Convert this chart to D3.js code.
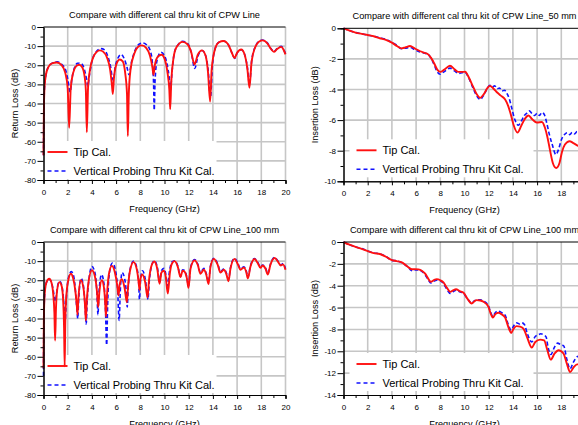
<!DOCTYPE html>
<html>
<head>
<meta charset="utf-8">
<script src="https://cdn.jsdelivr.net/npm/d3@7"></script>
<style>
  body { margin: 0; background: #fff; }
  svg { display: block; font-family: "Liberation Sans", Arial, sans-serif; }
</style>
</head>
<body>
<div id="chart"></div>
<script>
// DATA
const freqTicks = [0, 2, 4, 6, 8, 10, 12, 14, 16, 18, 20];
const freqMinor = [1, 3, 5, 7, 9, 11, 13, 15, 17, 19];
const rlTicks = [0, -10, -20, -30, -40, -50, -60, -70, -80];
const rlMinor = [-5, -15, -25, -35, -45, -55, -65, -75];
const il50Ticks = [0, -2, -4, -6, -8, -10];
const il50Minor = [-1, -3, -5, -7, -9];
const il100Ticks = [0, -2, -4, -6, -8, -10, -12, -14];
const il100Minor = [-1, -3, -5, -7, -9, -11, -13];
const seriesNames = ['Tip Cal.', 'Vertical Probing Thru Kit Cal.'];

// return loss, CPW line  [GHz, dB]
const rlLineTip = [[0, -67], [0.03, -45], [0.08, -32], [0.2, -25], [0.4, -21], [0.7, -19], [1.1, -18.6], [1.5, -20], [1.8, -24],
  [2.0, -32], [2.12, -52.7], [2.25, -32], [2.45, -24], [2.7, -20.5], [2.95, -19.7], [3.2, -21], [3.4, -26], [3.5, -33], [3.58, -55],
  [3.68, -32], [3.85, -22], [4.1, -16], [4.4, -13], [4.65, -12.2], [4.95, -13], [5.25, -16], [5.5, -22], [5.65, -30], [5.73, -35],
  [5.82, -27], [6.0, -20], [6.3, -17], [6.55, -18], [6.75, -24], [6.9, -35], [6.97, -57], [7.05, -35], [7.2, -22], [7.5, -14],
  [7.8, -10.5], [8.13, -9.6], [8.5, -11], [8.8, -15], [9.0, -21], [9.09, -25], [9.2, -20], [9.45, -15.5], [9.75, -14.5], [10.0, -16.5],
  [10.25, -24], [10.4, -33], [10.47, -43], [10.55, -30], [10.75, -16], [11.0, -10.5], [11.5, -7.8], [11.9, -9], [12.2, -13],
  [12.48, -19.6], [12.75, -14.5], [13.1, -12.2], [13.4, -15], [13.6, -24], [13.77, -39], [13.9, -22], [14.2, -11], [14.5, -8],
  [14.88, -7.3], [15.3, -9.5], [15.6, -14], [15.79, -16.2], [16.0, -13.5], [16.34, -11.8], [16.6, -14], [16.85, -22], [17.02, -31.8],
  [17.2, -18], [17.5, -10.5], [17.8, -7.7], [18.13, -7], [18.5, -8.5], [18.8, -11.5], [19.04, -13], [19.3, -11.5], [19.65, -10.4],
  [19.85, -12], [20, -14.3]];
const rlLineVp = [[0, -67], [0.03, -45], [0.08, -32], [0.2, -25], [0.4, -21], [0.7, -19], [1.15, -18.2], [1.5, -19.5], [1.8, -22],
  [2.0, -27], [2.2, -34], [2.35, -27], [2.55, -21.5], [2.8, -19], [3.0, -18.8], [3.25, -20], [3.45, -24], [3.58, -28], [3.66, -31],
  [3.8, -25], [4.0, -18], [4.3, -13.5], [4.75, -11.3], [5.05, -12], [5.3, -15], [5.55, -21], [5.7, -27], [5.78, -28], [5.9, -22],
  [6.1, -17], [6.42, -14.4], [6.7, -17], [6.9, -21], [7.07, -25], [7.25, -19], [7.55, -12.5], [7.9, -9], [8.2, -8.3], [8.55, -9.5],
  [8.85, -13], [9.0, -19], [9.1, -30], [9.15, -43.5], [9.22, -28], [9.4, -17], [9.7, -13.2], [9.95, -14.5], [10.2, -19], [10.4, -27],
  [10.5, -33], [10.6, -25], [10.8, -14], [11.1, -9.5], [11.5, -7.5], [11.9, -8.5], [12.2, -13], [12.5, -21.7], [12.78, -15],
  [13.1, -12.3], [13.4, -15], [13.6, -22], [13.8, -37], [13.95, -21], [14.2, -11], [14.5, -8], [14.85, -7.3], [15.3, -9.5],
  [15.6, -14], [15.8, -16.4], [16.0, -13.6], [16.35, -11.9], [16.6, -14], [16.85, -21], [17.02, -30], [17.2, -18], [17.5, -10.3],
  [17.8, -7.5], [18.1, -6.8], [18.5, -8.3], [18.8, -11.3], [19.04, -12.8], [19.3, -11.3], [19.65, -10.1], [19.85, -11.8], [20, -14]];

// insertion loss, 50 mm line
const il50Tip = [[0, 0], [0.5, -0.15], [1, -0.28], [1.5, -0.36], [2, -0.44], [2.5, -0.52], [3, -0.65], [3.5, -0.75], [4, -0.94],
  [4.4, -1.15], [4.77, -1.31], [5.1, -1.25], [5.5, -1.16], [5.9, -1.32], [6.34, -1.5], [6.7, -1.6], [7.02, -1.72], [7.25, -1.95],
  [7.5, -2.3], [7.75, -2.7], [8.0, -2.85], [8.3, -2.72], [8.8, -2.45], [9.2, -2.7], [9.5, -2.85], [9.8, -2.85], [10.05, -2.84],
  [10.35, -3.2], [10.7, -3.8], [11.0, -4.3], [11.3, -4.55], [11.6, -4.3], [11.9, -3.9], [12.1, -3.76], [12.4, -3.95], [12.7, -4.2],
  [13.0, -4.4], [13.36, -4.65], [13.6, -5.05], [13.8, -5.55], [14.05, -6.3], [14.38, -6.81], [14.7, -6.35], [15.0, -5.9],
  [15.29, -5.7], [15.6, -5.95], [15.98, -6.16], [16.4, -6.12], [16.65, -6.5], [16.85, -7.1], [17.05, -7.9], [17.3, -8.8],
  [17.58, -9.13], [17.85, -8.8], [18.05, -8.1], [18.3, -7.6], [18.68, -7.38], [19.0, -7.5], [19.4, -7.69], [20, -7.8]];
const il50Vp = [[0, 0], [0.5, -0.15], [1, -0.28], [1.5, -0.36], [2, -0.44], [2.5, -0.52], [3, -0.62], [3.5, -0.72], [4, -0.92],
  [4.4, -1.1], [4.77, -1.33], [5.1, -1.3], [5.5, -1.25], [5.9, -1.4], [6.34, -1.55], [6.7, -1.62], [7.02, -1.72], [7.25, -1.98],
  [7.5, -2.4], [7.75, -2.85], [8.0, -3.0], [8.3, -2.85], [8.8, -2.6], [9.2, -2.8], [9.5, -2.95], [9.8, -2.9], [10.05, -2.88],
  [10.35, -3.25], [10.7, -3.9], [11.0, -4.4], [11.3, -4.65], [11.6, -4.35], [11.9, -3.9], [12.1, -3.72], [12.3, -3.85],
  [12.5, -3.75], [12.7, -3.95], [12.9, -3.9], [13.1, -4.1], [13.3, -4.05], [13.5, -4.25], [13.7, -4.6], [13.9, -5.2],
  [14.15, -5.95], [14.45, -6.33], [14.7, -6.05], [14.95, -5.7], [15.15, -5.55], [15.35, -5.4], [15.6, -5.6], [15.8, -5.7],
  [16.0, -5.55], [16.2, -5.7], [16.4, -5.5], [16.6, -5.65], [16.8, -6.2], [17.0, -6.9], [17.25, -7.6], [17.55, -8.25],
  [17.8, -7.85], [18.0, -7.3], [18.25, -6.95], [18.5, -6.82], [18.7, -6.95], [18.9, -6.8], [19.1, -6.9], [19.3, -6.75],
  [19.5, -6.8], [20, -6.8]];

// return loss, 100 mm line
const rl100Tip = [[0, -66], [0.03, -40], [0.1, -27], [0.25, -21], [0.47, -19.2], [0.65, -21], [0.8, -27], [0.9, -37], [0.96, -51.5],
  [1.03, -35], [1.13, -25], [1.32, -21], [1.5, -23], [1.62, -30], [1.7, -45], [1.75, -65], [1.8, -42], [1.9, -27], [2.05, -20],
  [2.26, -16.6], [2.45, -19], [2.62, -25], [2.75, -33], [2.81, -38], [2.88, -30], [3.09, -20], [3.3, -24], [3.43, -33], [3.5, -41],
  [3.57, -32], [3.72, -21], [4.0, -14.8], [4.25, -18], [4.42, -26], [4.52, -34], [4.62, -26], [4.82, -20], [5.0, -24], [5.1, -32],
  [5.16, -39], [5.23, -30], [5.4, -17], [5.65, -12.5], [5.9, -16], [6.1, -23], [6.2, -28], [6.3, -22], [6.47, -19.5], [6.7, -24],
  [6.89, -31.5], [6.98, -24], [7.15, -15], [7.44, -10.5], [7.7, -14], [7.88, -22], [7.93, -25], [8.0, -20], [8.15, -17], [8.4, -21],
  [8.6, -29], [8.72, -20], [8.9, -13], [9.15, -10.2], [9.4, -14], [9.59, -21.8], [9.75, -16], [9.95, -15], [10.1, -18], [10.27, -27],
  [10.45, -16], [10.6, -11.5], [10.83, -10], [11.1, -13], [11.32, -18.3], [11.5, -15], [11.65, -15.5], [11.85, -19], [11.98, -24],
  [12.15, -14], [12.48, -9.6], [12.75, -12], [12.97, -16.6], [13.25, -14.5], [13.45, -17], [13.64, -22], [13.8, -13], [14.08, -8.8],
  [14.4, -12], [14.63, -16], [14.9, -14.5], [15.1, -16.5], [15.29, -20.5], [15.45, -14], [15.79, -8.8], [16.05, -11.5],
  [16.28, -14.5], [16.56, -13.4], [16.75, -15.5], [16.89, -19], [17.1, -13], [17.44, -8.9], [17.7, -11], [17.93, -13.5],
  [18.1, -12.3], [18.35, -14], [18.54, -17], [18.75, -12], [19.1, -8.4], [19.4, -10.5], [19.6, -12.3], [19.8, -11.7], [20, -14.5]];
const rl100Vp = [[0, -70], [0.03, -42], [0.1, -27], [0.25, -21], [0.47, -19.4], [0.65, -21], [0.8, -25], [0.93, -30], [1.0, -31],
  [1.08, -27], [1.2, -22], [1.35, -20.5], [1.52, -23], [1.68, -32], [1.78, -42], [1.9, -28], [2.05, -19], [2.3, -15.5], [2.5, -18],
  [2.65, -26], [2.78, -37], [2.83, -40], [2.9, -31], [3.1, -19], [3.3, -23], [3.45, -35], [3.53, -43], [3.6, -32], [3.75, -20],
  [4.0, -12.8], [4.25, -16], [4.42, -27], [4.5, -38], [4.58, -27], [4.8, -17], [5.0, -22], [5.12, -35], [5.22, -54], [5.3, -33],
  [5.45, -16], [5.7, -11], [5.95, -15], [6.12, -24], [6.25, -41], [6.35, -25], [6.5, -16], [6.7, -19], [6.85, -27], [6.92, -34],
  [7.0, -24], [7.2, -13], [7.45, -10], [7.7, -13], [7.87, -22], [7.93, -30], [8.02, -20], [8.18, -15], [8.4, -19], [8.57, -27],
  [8.63, -30], [8.75, -20], [8.95, -12], [9.15, -9.8], [9.4, -13], [9.6, -21], [9.75, -15], [9.95, -13.8], [10.1, -16.5],
  [10.25, -23], [10.42, -15], [10.6, -10.5], [10.83, -9.8], [11.1, -12.5], [11.32, -18], [11.5, -14.5], [11.65, -14.8],
  [11.85, -18.5], [11.98, -23], [12.15, -13.5], [12.48, -9.2], [12.75, -11.5], [12.97, -16], [13.25, -13.8], [13.45, -16.5],
  [13.64, -21], [13.8, -12.5], [14.08, -8.5], [14.4, -11.5], [14.63, -15.5], [14.9, -14], [15.1, -16], [15.29, -19.5],
  [15.45, -13.5], [15.79, -8.5], [16.05, -11], [16.28, -14], [16.56, -13], [16.75, -15], [16.89, -18.5], [17.1, -12.5],
  [17.44, -8.6], [17.7, -10.6], [17.93, -13], [18.1, -12], [18.35, -13.6], [18.54, -16.5], [18.75, -11.6], [19.1, -8.1],
  [19.4, -10.2], [19.6, -12], [19.8, -11.3], [20, -14]];

// insertion loss, 100 mm line
const il100Tip = [[0, 0], [0.5, -0.25], [1, -0.45], [1.5, -0.62], [2, -0.83], [2.5, -1.02], [3, -1.1], [3.5, -1.35], [4, -1.65],
  [4.4, -1.75], [4.82, -1.87], [5.23, -2.2], [5.65, -2.5], [5.9, -2.48], [6.2, -2.5], [6.5, -2.65], [6.75, -2.9], [7.0, -3.35],
  [7.22, -3.64], [7.45, -3.5], [7.71, -3.4], [8.0, -3.5], [8.26, -3.7], [8.55, -4.2], [8.82, -4.56], [9.05, -4.42], [9.3, -4.32],
  [9.6, -4.5], [9.92, -4.65], [10.25, -5.2], [10.6, -5.63], [10.8, -5.45], [11.0, -5.32], [11.3, -5.35], [11.57, -5.47],
  [11.98, -5.93], [12.15, -6.5], [12.34, -6.91], [12.55, -6.6], [12.8, -6.48], [13.05, -6.6], [13.36, -6.91], [13.6, -7.7],
  [13.86, -8.32], [14.05, -7.95], [14.3, -7.7], [14.6, -7.75], [14.88, -7.95], [15.2, -8.8], [15.56, -9.66], [15.85, -9.15],
  [16.25, -8.93], [16.58, -9.0], [16.85, -9.9], [17.13, -10.76], [17.45, -10.2], [17.77, -9.9], [18.18, -10.2], [18.45, -11.1],
  [18.73, -11.9], [19.0, -11.5], [19.3, -11.2], [20, -11.2]];
const il100Vp = [[0, 0], [0.5, -0.25], [1, -0.45], [1.5, -0.6], [2, -0.82], [2.5, -1.0], [3, -1.08], [3.5, -1.32], [4, -1.68],
  [4.4, -1.72], [4.82, -1.9], [5.23, -2.2], [5.5, -2.5], [5.7, -2.65], [5.9, -2.55], [6.2, -2.55], [6.5, -2.7], [6.75, -3.0],
  [7.0, -3.45], [7.22, -3.75], [7.45, -3.6], [7.71, -3.5], [8.0, -3.55], [8.26, -3.8], [8.55, -4.35], [8.82, -4.7], [9.05, -4.55],
  [9.3, -4.4], [9.6, -4.55], [9.92, -4.7], [10.25, -5.2], [10.6, -5.6], [10.8, -5.4], [11.0, -5.3], [11.3, -5.3], [11.57, -5.4],
  [11.98, -5.85], [12.15, -6.4], [12.34, -6.79], [12.55, -6.45], [12.8, -6.33], [13.05, -6.45], [13.36, -6.7], [13.6, -7.5],
  [13.86, -8.07], [14.05, -7.7], [14.3, -7.4], [14.55, -7.5], [14.75, -7.4], [14.95, -7.55], [15.2, -8.4], [15.56, -9.14],
  [15.85, -8.65], [16.1, -8.5], [16.3, -8.4], [16.55, -8.5], [16.75, -8.7], [16.9, -9.6], [17.13, -10.3], [17.45, -9.6],
  [17.7, -9.25], [17.95, -9.4], [18.2, -9.5], [18.45, -10.7], [18.73, -11.6], [19.0, -11.0], [19.3, -10.5], [20, -10.3]];

// LAYOUT
const plotW = 242;
const plotH = 153;
const panels = [
  { left: 43.5, top: 27, yMin: -80, ticks: rlTicks, minor: rlMinor, title: 'Compare with different cal thru kit of CPW Line',
    yLabel: 'Return Loss (dB)', tip: rlLineTip, vp: rlLineVp, leg: { x: 4, y: 125, box: [0.5, 173] } },
  { left: 343.5, top: 28.3, yMin: -10, ticks: il50Ticks, minor: il50Minor, title: 'Compare with different cal thru kit of CPW Line_50 mm',
    yLabel: 'Insertion Loss (dB)', tip: il50Tip, vp: il50Vp, leg: { x: 13, y: 122, box: [6, 190] } },
  { left: 43.5, top: 242, yMin: -80, ticks: rlTicks, minor: rlMinor, title: 'Compare with different cal thru kit of CPW Line_100 mm',
    yLabel: 'Return Loss (dB)', tip: rl100Tip, vp: rl100Vp, leg: { x: 4, y: 124, box: [0.5, 173] } },
  { left: 343.5, top: 242, yMin: -14, ticks: il100Ticks, minor: il100Minor, title: 'Compare with different cal thru kit of CPW Line_100 mm',
    yLabel: 'Insertion Loss (dB)', tip: il100Tip, vp: il100Vp, leg: { x: 13, y: 122, box: [6, 190] } }
];

const svg = d3.select('#chart').append('svg')
  .attr('width', 578)
  .attr('height', 425);

panels.forEach(drawPanel);

function drawPanel(p, idx) {
  const x = d3.scaleLinear().domain([0, 20]).range([0, plotW]);
  const y = d3.scaleLinear().domain([p.yMin, 0]).range([plotH, 0]);
  const g = svg.append('g').attr('transform', `translate(${p.left},${p.top})`);

  // grid
  g.append('g').selectAll('line')
    .data(freqTicks.slice(1))
    .join('line')
    .attr('x1', d => x(d)).attr('x2', d => x(d))
    .attr('y1', 0).attr('y2', plotH)
    .attr('stroke', '#c6c6c6').attr('stroke-width', 1.6);
  g.append('g').selectAll('line')
    .data(p.ticks.filter(d => d !== 0 && d !== p.yMin))
    .join('line')
    .attr('x1', 0).attr('x2', plotW)
    .attr('y1', d => y(d)).attr('y2', d => y(d))
    .attr('stroke', '#c6c6c6').attr('stroke-width', 1.6);

  // legend background sits over the grid, under the curves
  g.append('rect')
    .attr('x', p.leg.box[0]).attr('y', p.leg.y - 11)
    .attr('width', p.leg.box[1] - p.leg.box[0]).attr('height', 38)
    .attr('fill', '#fff');

  const clipId = 'clip' + idx;
  g.append('clipPath').attr('id', clipId)
    .append('rect').attr('x', -2).attr('y', -2).attr('width', plotW + 4).attr('height', plotH + 2);

  const line = d3.line()
    .x(d => x(d[0]))
    .y(d => y(d[1]))
    .curve(d3.curveMonotoneX);

  const curves = g.append('g').attr('clip-path', `url(#${clipId})`);
  curves.append('path')
    .attr('d', line(p.vp))
    .attr('fill', 'none').attr('stroke', '#1010ff').attr('stroke-width', 1.6)
    .attr('stroke-dasharray', '4,2.5');
  curves.append('path')
    .attr('d', line(p.tip))
    .attr('fill', 'none').attr('stroke', '#ff1010').attr('stroke-width', 1.9);

  // legend
  const leg = g.append('g').attr('transform', `translate(${p.leg.x},${p.leg.y})`);
  seriesNames.forEach((name, i) => {
    leg.append('line')
      .attr('x1', 0).attr('x2', 20)
      .attr('y1', i * 19).attr('y2', i * 19)
      .attr('stroke', i === 0 ? '#ff1010' : '#1010ff')
      .attr('stroke-width', i === 0 ? 1.9 : 1.6)
      .attr('stroke-dasharray', i === 0 ? null : '4,3');
    leg.append('text')
      .attr('x', 26).attr('y', i * 19)
      .attr('dy', '0.36em')
      .style('font-size', '11px')
      .text(name);
  });

  // axes
  const fmt = d => String(d);
  const yAxis = g.append('g').call(d3.axisLeft(y).tickValues(p.ticks).tickSize(6).tickPadding(1.5).tickFormat(fmt));
  g.append('g').call(d3.axisLeft(y).tickValues(p.minor).tickSize(3).tickFormat(''));
  const xAxis = g.append('g').attr('transform', `translate(0,${plotH})`)
    .call(d3.axisBottom(x).tickValues(freqTicks).tickSize(4).tickPadding(5).tickFormat(fmt));
  g.append('g').attr('transform', `translate(0,${plotH})`)
    .call(d3.axisBottom(x).tickValues(freqMinor).tickSize(3).tickFormat(''));

  g.selectAll('.domain').attr('stroke', '#000');
  g.selectAll('.tick line').attr('stroke', '#000');
  [yAxis, xAxis].forEach(a => a.selectAll('text')
    .style('font-size', '8px')
    .style('font-family', '"Liberation Sans", Arial, sans-serif')
    .attr('fill', '#000'));

  // top frame
  g.append('line')
    .attr('x1', 0).attr('x2', plotW)
    .attr('y1', 0).attr('y2', 0)
    .attr('stroke', '#000').attr('stroke-width', 1);

  // titles
  g.append('text')
    .attr('x', plotW / 2).attr('y', -9.5)
    .attr('text-anchor', 'middle')
    .style('font-size', '9.2px')
    .text(p.title);
  g.append('text')
    .attr('x', plotW / 2).attr('y', plotH + 31.5)
    .attr('text-anchor', 'middle')
    .style('font-size', '9.2px')
    .text('Frequency (GHz)');
  g.append('text')
    .attr('transform', `translate(-26,${plotH / 2}) rotate(-90)`)
    .attr('text-anchor', 'middle')
    .style('font-size', '9.2px')
    .text(p.yLabel);
}
</script>
</body>
</html>
